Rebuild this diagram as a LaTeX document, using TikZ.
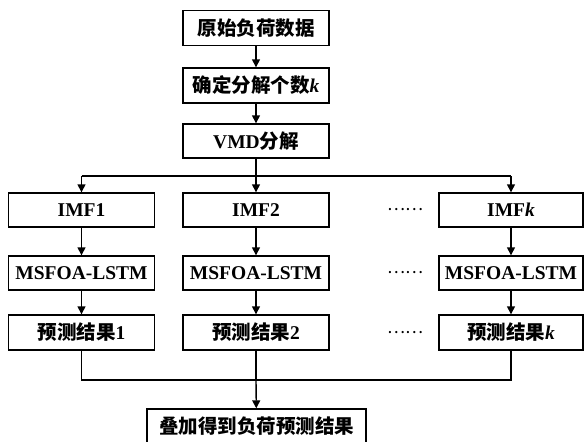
\documentclass[tikz,border=0pt]{standalone}
\usepackage{fontspec}
\setmainfont{Liberation Serif}
\newfontfamily\cjk{Noto Sans CJK SC}
\usetikzlibrary{arrows.meta}
\begin{document}
\begin{tikzpicture}[x=1pt,y=-1pt,
  box/.style={draw,line width=1.4pt,minimum width=146pt,minimum height=35pt,inner sep=0pt,
    font=\fontsize{19.5}{22}\selectfont\bfseries},
  arr/.style={line width=1.4pt,-{Triangle[length=8pt,width=8pt]}},
  ln/.style={line width=1.4pt},
  dots/.style={inner sep=0pt,font=\cjk\fontsize{17}{17}\selectfont}]
\useasboundingbox (0,0) rectangle (584,442);
% main column
\node[box] (a) at (256,28) {\cjk 原始负荷数据};
\node[box] (b) at (256,85.5) {{\cjk 确定分解个数}\textit{k}};
\node[box,minimum height=34pt] (c) at (256,141) {VMD{\cjk 分解}};
% IMF row
\node[box,minimum height=34pt] (i1) at (81.5,210) {IMF1};
\node[box,minimum height=34pt] (i2) at (256,210) {IMF2};
\node[box,minimum height=34pt,minimum width=144pt] (i3) at (511,210) {IMF\textit{k}};
% model row
\node[box,minimum height=34pt] (m1) at (81.5,273) {MSFOA-LSTM};
\node[box,minimum height=34pt] (m2) at (256,273) {MSFOA-LSTM};
\node[box,minimum height=34pt,minimum width=144pt] (m3) at (511,273) {MSFOA-LSTM};
% result row
\node[box] (r1) at (81.5,332.5) {{\cjk 预测结果}1};
\node[box] (r2) at (256,332.5) {{\cjk 预测结果}2};
\node[box,minimum width=144pt] (r3) at (511,332.5) {{\cjk 预测结果}\textit{k}};
% final
\node[box,minimum width=219pt] (f) at (256.5,426.5) {\cjk 叠加得到负荷预测结果};
% dots
\node[dots] (d1) at (405,210) {……};
\node[dots] (d2) at (405,273) {……};
\node[dots] (d3) at (405,332.5) {……};
% connectors
\draw[arr] (a) -- (b);
\draw[arr] (b) -- (c);
\coordinate (bl) at (81.5,176);
\coordinate (bm) at (256,176);
\coordinate (bk) at (511,176);
\draw[ln] (c) -- (bm);
\draw[ln] (bl) -- (bk);
\draw[arr] (bl) -- (i1);
\draw[arr] (bm) -- (i2);
\draw[arr] (bk) -- (i3);
\draw[arr] (i1) -- (m1);
\draw[arr] (i2) -- (m2);
\draw[arr] (i3) -- (m3);
\draw[arr] (m1) -- (r1);
\draw[arr] (m2) -- (r2);
\draw[arr] (m3) -- (r3);
\coordinate (ml) at (81.5,380);
\coordinate (mm) at (256,380);
\coordinate (mk) at (511,380);
\draw[ln] (r1) -- (ml) -- (mk) -- (r3);
\draw[ln] (r2) -- (mm);
\draw[arr] (mm) -- (f);
\end{tikzpicture}
\end{document}
